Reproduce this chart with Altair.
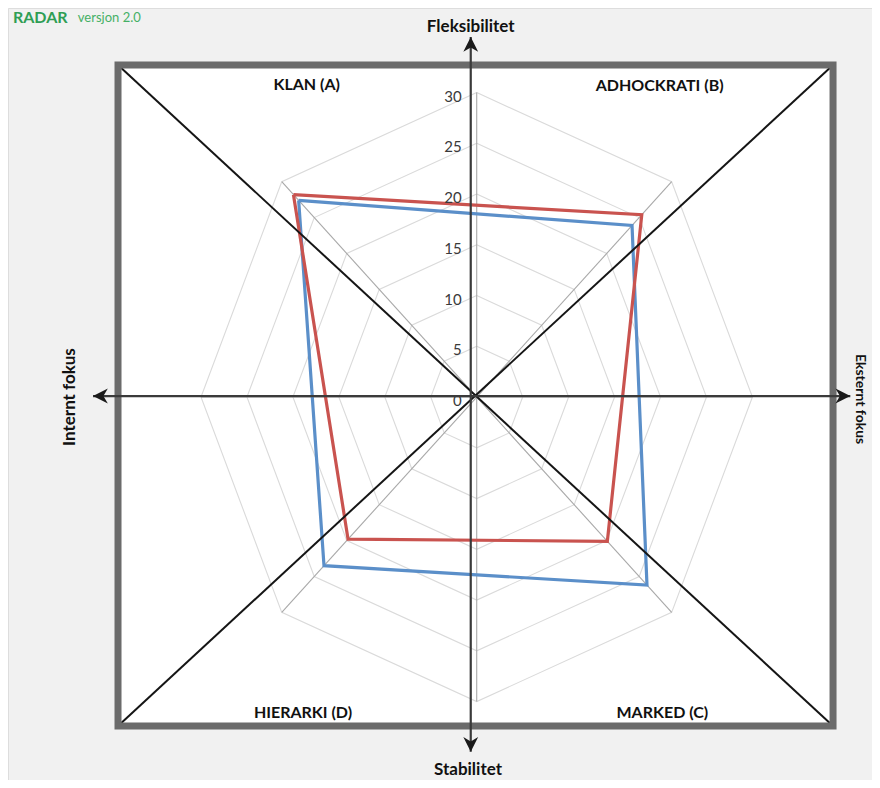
import altair as alt
import pandas as pd

# ---------------- data ----------------
categories = ["KLAN (A)", "ADHOCKRATI (B)", "MARKED (C)", "HIERARKI (D)"]
category_angles = [135, 45, -45, -135]
blue_values = [27.4, 23.9, 26.2, 23.5]
red_values = [28.2, 25.4, 20.1, 19.8]
series_names = ["Blå", "Rød"]
series_colors = ["#5b8fc9", "#c9534f"]

ring_values = [5, 10, 15, 20, 25, 30]
spoke_angles = [90, 45, 0, -45, -90, -135, 180, 135]
tick_values = [0, 5, 10, 15, 20, 25, 30]
tick_labels = ["0", "5", "10", "15", "20", "25", "30"]

corner_labels = ["KLAN (A)", "ADHOCKRATI (B)", "MARKED (C)", "HIERARKI (D)"]
corner_x = [-18.5, 19.9, 20.2, -18.9]
corner_y = [30.7, 30.6, -31.1, -31.1]

# frame / annotation geometry in radar units
box = dict(x=-39.03, x2=38.77, y=-32.41, y2=32.71)
X_DOMAIN = [-51.0, 43.01]
Y_DOMAIN = [-37.73, 38.33]

xs = alt.Scale(domain=X_DOMAIN, nice=False, zero=False)
ys = alt.Scale(domain=Y_DOMAIN, nice=False, zero=False)


def X(f="x"):
    return alt.X(f"{f}:Q", scale=xs, axis=None)


def Y(f="y"):
    return alt.Y(f"{f}:Q", scale=ys, axis=None)


RAD = "PI/180"

# ---------------- tables ----------------
series_rows = []
for name, vals in zip(series_names, [blue_values, red_values]):
    for i in range(len(categories) + 1):
        j = i % len(categories)
        series_rows.append(dict(series=name, idx=i, cat=categories[j],
                                angle=category_angles[j], r=vals[j]))
series_df = pd.DataFrame(series_rows)

ring_rows = []
for rv in ring_values:
    for i in range(len(spoke_angles) + 1):
        ring_rows.append(dict(ring=rv, idx=i, angle=spoke_angles[i % len(spoke_angles)], r=rv))
ring_df = pd.DataFrame(ring_rows)

spoke_rows = []
for a in spoke_angles:
    spoke_rows.append(dict(angle=a, idx=0, r=0))
    spoke_rows.append(dict(angle=a, idx=1, r=ring_values[-1]))
spoke_df = pd.DataFrame(spoke_rows)

tick_df = pd.DataFrame(dict(label=tick_labels, y=tick_values, x=[0] * len(tick_values)))

polar = dict(x=f"datum.r*cos(datum.angle*{RAD})", y=f"datum.r*sin(datum.angle*{RAD})")

# ---------------- layers ----------------
box_df = pd.DataFrame([box])
box_fill = alt.Chart(box_df).mark_rect(color="white").encode(
    x=X("x"), x2="x2", y=Y("y"), y2="y2")
box_border = alt.Chart(box_df).mark_rect(fillOpacity=0, stroke="#6b6b6b", strokeWidth=7).encode(
    x=X("x"), x2="x2", y=Y("y"), y2="y2")

rings = alt.Chart(ring_df).transform_calculate(**polar).mark_line(
    color="#dadada", strokeWidth=1.1).encode(
    x=X(), y=Y(), detail="ring:N", order="idx:Q")

spokes = alt.Chart(spoke_df).transform_calculate(**polar).mark_line(
    color="#a8a8a8", strokeWidth=1.1).encode(
    x=X(), y=Y(), detail="angle:N", order="idx:Q")

series = alt.Chart(series_df).transform_calculate(**polar).mark_line(
    strokeWidth=3.2, strokeJoin="miter").encode(
    x=X(), y=Y(),
    color=alt.Color("series:N", scale=alt.Scale(domain=series_names, range=series_colors), legend=None),
    detail="series:N", order="idx:Q")

diag_df = pd.DataFrame([
    dict(x=box["x"], y=box["y2"], x2=box["x2"], y2=box["y"]),
    dict(x=box["x"], y=box["y"], x2=box["x2"], y2=box["y2"]),
])
diagonals = alt.Chart(diag_df).mark_rule(color="#151515", strokeWidth=2).encode(
    x=X("x"), y=Y("y"), x2="x2", y2="y2")

RIGHT_TIP = 40.65
arrow_df = pd.DataFrame([
    dict(x=-0.65, y=35.47, x2=-0.65, y2=-34.95),
    dict(x=-41.75, y=0.1, x2=RIGHT_TIP, y2=0.1),
])
arrows = alt.Chart(arrow_df).mark_rule(color="#3a3a3a", strokeWidth=2.2).encode(
    x=X("x"), y=Y("y"), x2="x2", y2="y2")


def head(px, py, path):
    return alt.Chart(pd.DataFrame(dict(x=[px], y=[py]))).mark_point(
        shape=path, filled=True, size=220, color="#1a1a1a", opacity=1).encode(x=X(), y=Y())


heads = [
    head(-0.65, 35.47, "M0,0L1,2L0,1.4L-1,2Z"),
    head(-0.65, -34.95, "M0,0L1,-2L0,-1.4L-1,-2Z"),
    head(-41.75, 0.1, "M0,0L2,1L1.4,0L2,-1Z"),
    head(RIGHT_TIP, 0.1, "M0,0L-2,1L-1.4,0L-2,-1Z"),
]

ticks = alt.Chart(tick_df).mark_text(
    align="right", baseline="middle", dx=-15, dy=4, fontSize=15, font="Lato", color="#3a3a3a").encode(
    x=X(), y=Y(), text="label:N")

corner_df = pd.DataFrame(dict(label=corner_labels, x=corner_x, y=corner_y))
corners = alt.Chart(corner_df).mark_text(
    fontSize=16, fontWeight="bold", font="Lato", color="#111111", baseline="middle").encode(
    x=X(), y=Y(), text="label:N")


def txt(label, px, py, angle=0, size=16, color="#111111", weight="bold", align="center"):
    return alt.Chart(pd.DataFrame(dict(label=[label], x=[px], y=[py]))).mark_text(
        fontSize=size, fontWeight=weight, font="Lato", color=color, angle=angle,
        align=align, baseline="middle").encode(x=X(), y=Y(), text="label:N")


titles = [
    txt("Fleksibilitet", -0.65, 36.5, size=17),
    txt("Stabilitet", -0.95, -36.75, size=17),
    txt("Internt fokus", -44.25, 0.0, angle=270, size=17),
    txt("Eksternt fokus", 41.7, -0.2, angle=90, size=14),
    txt("RADAR", -50.46, 37.3, size=16, color="#2f9e55", align="left"),
    txt("versjon 2.0", -43.4, 37.3, size=13, color="#45b065", weight="normal", align="left"),
]

chart = alt.layer(
    box_fill, rings, spokes, series, diagonals, box_border, arrows, *heads, ticks, corners, *titles
).properties(
    width=864, height=772, padding=0,
    autosize=alt.AutoSizeParams(type="none"),
).configure_view(stroke=None).configure(background="#f1f1f1")

chart.save("out.html", embed_options={"renderer": "svg", "actions": False})
